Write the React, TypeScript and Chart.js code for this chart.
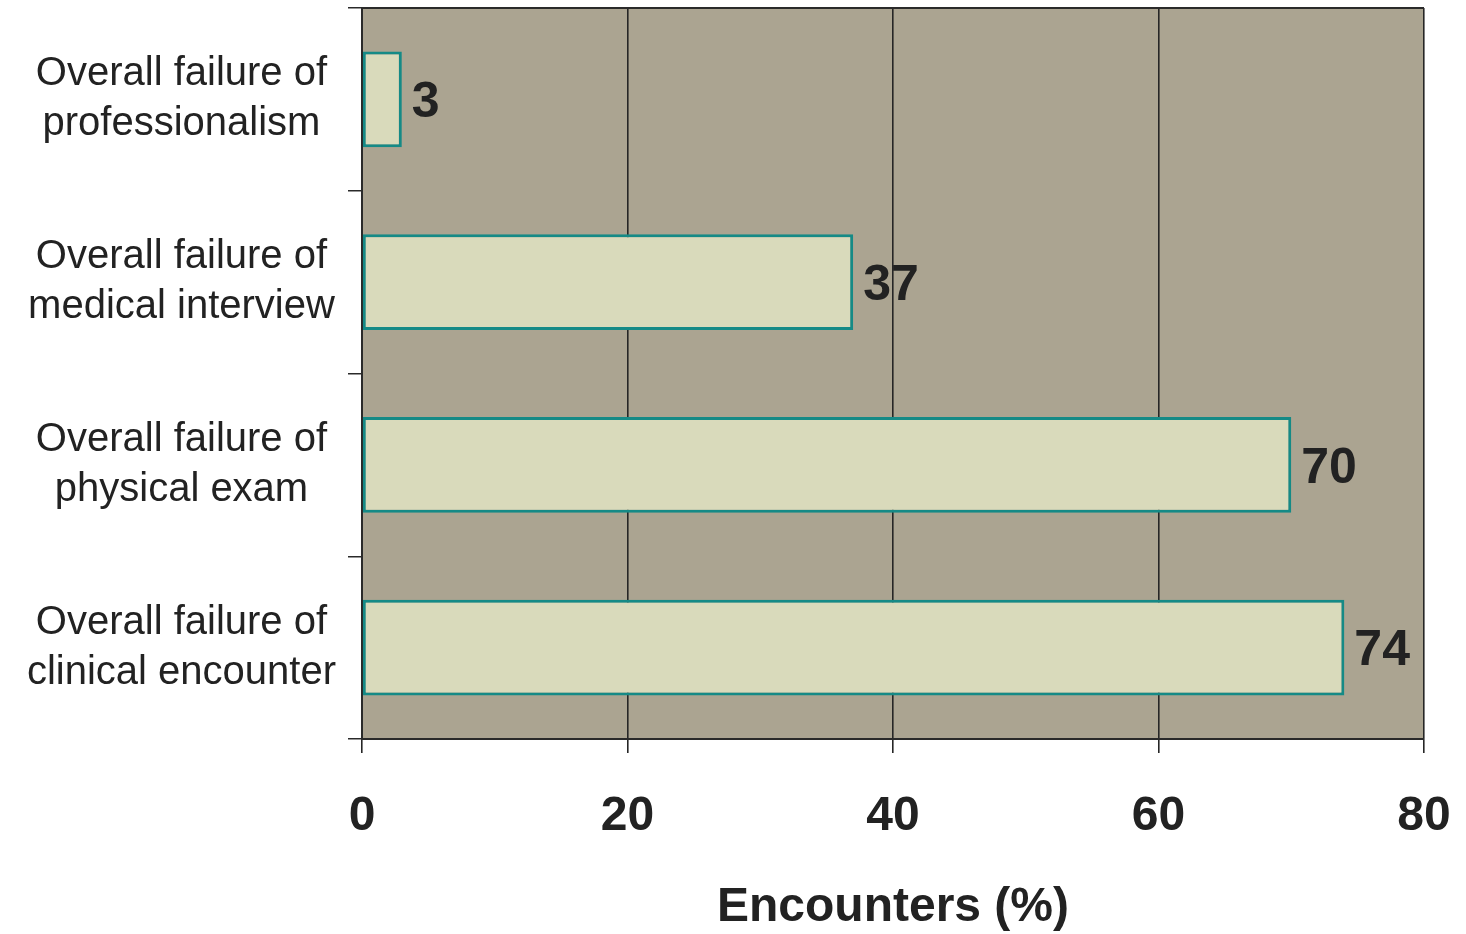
import React, { useEffect, useRef } from "react";
import { Chart, registerables } from "chart.js";

Chart.register(...registerables);

const categories: string[][] = [
  ["Overall failure of", "professionalism"],
  ["Overall failure of", "medical interview"],
  ["Overall failure of", "physical exam"],
  ["Overall failure of", "clinical encounter"],
];
const values: number[] = [3, 37, 70, 74];
const xTicks: number[] = [0, 20, 40, 60, 80];
const axisTitle = "Encounters (%)";

const FONT = "'Liberation Sans', Arial, sans-serif";
const TEXT = "#222222";

const bgPlugin = {
  id: "plotBg",
  beforeDraw(chart: any) {
    const { ctx, chartArea } = chart;
    if (!chartArea) return;
    ctx.save();
    ctx.fillStyle = "#aba491";
    ctx.fillRect(chartArea.left, chartArea.top, chartArea.right - chartArea.left, chartArea.bottom - chartArea.top);
    ctx.restore();
  },
  afterDraw(chart: any) {
    const { ctx, chartArea } = chart;
    ctx.save();
    ctx.strokeStyle = "#2a2a2a";
    ctx.lineWidth = 2;
    ctx.beginPath();
    ctx.moveTo(chartArea.left, chartArea.top);
    ctx.lineTo(chartArea.right, chartArea.top);
    ctx.stroke();
    ctx.restore();
  },
};

const labelPlugin = {
  id: "barLabels",
  afterDatasetsDraw(chart: any) {
    const { ctx } = chart;
    const meta = chart.getDatasetMeta(0);
    ctx.save();
    ctx.fillStyle = TEXT;
    ctx.font = `bold 50px ${FONT}`;
    ctx.textAlign = "left";
    ctx.textBaseline = "middle";
    meta.data.forEach((bar: any, i: number) => {
      ctx.fillText(String(values[i]), bar.x + 10, bar.y + 4);
    });
    ctx.restore();
  },
};

function zeroPad(scale: any) {
  scale.paddingTop = 0;
  scale.paddingBottom = 0;
  scale.paddingLeft = 0;
  scale.paddingRight = 0;
}

export default function App() {
  const ref = useRef<HTMLCanvasElement | null>(null);
  useEffect(() => {
    if (!ref.current) return;
    const chart = new Chart(ref.current, {
      type: "bar",
      data: {
        labels: categories,
        datasets: [
          {
            data: values,
            backgroundColor: "#d9dabb",
            borderColor: "#158a86",
            borderWidth: 3,
            borderSkipped: false,
            barPercentage: 0.525,
            categoryPercentage: 1,
          },
        ],
      },
      options: {
        indexAxis: "y",
        animation: false,
        responsive: true,
        maintainAspectRatio: false,
        layout: { padding: { left: 0, right: 42, top: 8, bottom: -3 } },
        plugins: { legend: { display: false }, tooltip: { enabled: false } },
        scales: {
          x: {
            min: 0,
            max: 80,
            afterBuildTicks(scale: any) {
              scale.ticks = xTicks.map((v) => ({ value: v }));
            },
            afterFit(scale: any) {
              scale.height = 198;
              zeroPad(scale);
            },
            grid: {
              color: "#262626",
              lineWidth: 1.6,
              tickLength: 14,
              drawTicks: true,
            },
            border: { color: "#2a2a2a", width: 2 },
            ticks: {
              color: TEXT,
              font: { family: FONT, size: 48, weight: "bold" },
              padding: 35,
              maxRotation: 0,
            },
            title: {
              display: true,
              text: axisTitle,
              color: TEXT,
              font: { family: FONT, size: 48, weight: "bold" },
              padding: { top: 0, bottom: 0 },
            },
          },
          y: {
            afterFit(scale: any) {
              scale.width = 362;
              zeroPad(scale);
            },
            grid: {
              offset: true,
              drawOnChartArea: false,
              color: "#2a2a2a",
              lineWidth: 1.5,
              tickLength: 14,
            },
            border: { color: "#2a2a2a", width: 2 },
            ticks: {
              color: TEXT,
              font: { family: FONT, size: 40, lineHeight: 1.25 },
              crossAlign: "center",
              padding: 12,
            },
          },
        },
      },
      plugins: [bgPlugin, labelPlugin],
    } as any);
    return () => chart.destroy();
  }, []);
  return (
    <div style={{ position: "absolute", left: 0, top: 0, width: 1466, height: 934, background: "#ffffff" }}>
      <canvas ref={ref} />
    </div>
  );
}
